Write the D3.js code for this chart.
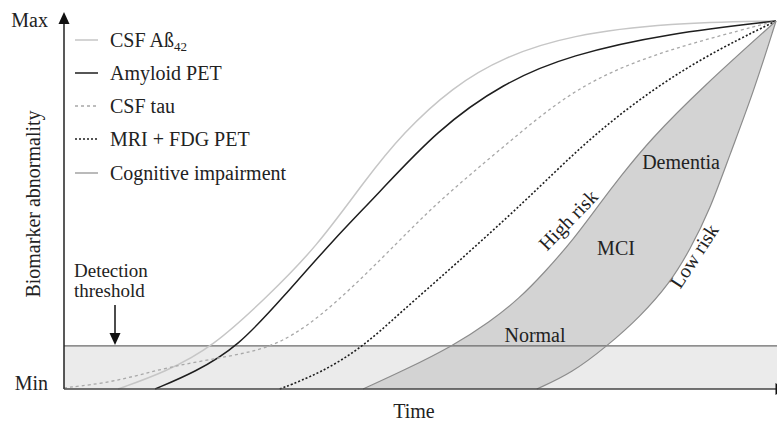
<!DOCTYPE html>
<html>
<head>
<meta charset="utf-8">
<script src="https://cdn.jsdelivr.net/npm/d3@7"></script>
<style>
  html, body { margin: 0; padding: 0; background: #fff; }
  svg { display: block; }
  text { font-family: "Liberation Serif", "DejaVu Serif", serif; }
</style>
</head>
<body>
<svg id="chart" width="777" height="422"></svg>
<script>
// ---- data (time 0..100, abnormality 0..100) ----
const csfAbeta   = [[7.6,0],[14.2,4.6],[20.9,11.4],[28.5,25.0],[35.5,38.6],[42.3,56.8],[47.6,69.6],[54.6,82.1],[61.7,90.2],[71.1,96.2],[85.1,99.5],[100,100]];
const amyloidPet = [[12.8,0],[18.4,4.6],[24.4,11.4],[30.8,25.0],[37.8,40.5],[44.0,52.8],[52.4,70.4],[61.7,83.2],[71.1,90.8],[85.1,96.7],[100,100]];
const csfTau     = [[0,0.3],[7.2,1.9],[14.5,6.0],[23.3,8.9],[30.3,11.7],[37.8,22.3],[47.2,40.5],[52.8,51.4],[61.7,65.8],[71.1,81.0],[80.5,89.4],[89.7,94.8],[100,100]];
const mriFdgPet  = [[30.3,0],[36.0,4.3],[42.0,11.4],[47.2,20.7],[54.6,33.2],[65.0,51.4],[72.5,65.8],[80.5,78.5],[89.7,90.2],[100,100]];
const highRisk   = [[42.0,0],[47.9,5.2],[54.6,11.7],[59.8,18.2],[64.0,24.7],[67.4,31.5],[71.5,40.5],[75.3,50.5],[78.1,57.6],[82.3,67.7],[89.7,82.1],[100,100]];
const lowRisk    = [[66.4,0],[71.3,4.3],[76.3,11.7],[80.9,19.6],[85.1,28.8],[87.9,37.8],[90.7,48.6],[93.5,63.6],[96.8,80.4],[100,100]];
const threshold  = 11.7;
const yTickValues = [0, 100];
const yTickLabels = ["Min", "Max"];
const legendLabels = ["CSF Aß", "Amyloid PET", "CSF tau", "MRI + FDG PET", "Cognitive impairment"];
const regionLabels = ["Normal", "MCI", "Dementia"];
const riskLabels = ["High risk", "Low risk"];

// ---- drawing ----
const FONT = "Liberation Serif, DejaVu Serif, serif";
const svg = d3.select("#chart");
const x = d3.scaleLinear().domain([0, 100]).range([64, 776]);
const y = d3.scaleLinear().domain([0, 100]).range([389, 21]);
const line = d3.line().x(d => x(d[0])).y(d => y(d[1])).curve(d3.curveBasis);

function label(sel) {
  return sel.attr("font-family", FONT).attr("font-size", 20).attr("fill", "#222");
}

// threshold band
svg.append("rect")
  .attr("x", x(0)).attr("y", y(threshold))
  .attr("width", 777 - x(0)).attr("height", y(0) - y(threshold))
  .attr("fill", "#ebebeb");

// cognitive impairment region
const hiPath = line(highRisk);
const loPath = line(lowRisk.slice().reverse());
svg.append("path")
  .attr("d", hiPath + "L" + loPath.slice(1) + "Z")
  .attr("fill", "#d3d3d3").attr("stroke", "none");

// threshold line
svg.append("line")
  .attr("x1", x(0)).attr("x2", 777)
  .attr("y1", y(threshold)).attr("y2", y(threshold))
  .attr("stroke", "#6a6a6a").attr("stroke-width", 1.2);

// curves
const series = [
  {data: csfAbeta,   color: "#c6c6c6", dash: null,  w: 1.5},
  {data: amyloidPet, color: "#1e1e1e", dash: null,  w: 1.5},
  {data: csfTau,     color: "#a8a8a8", dash: "3,3", w: 1.3},
  {data: mriFdgPet,  color: "#1e1e1e", dash: "2,2", w: 1.6},
  {data: highRisk,   color: "#8c8c8c", dash: null,  w: 1.2},
  {data: lowRisk,    color: "#8c8c8c", dash: null,  w: 1.2}
];
series.forEach(s => {
  svg.append("path").attr("d", line(s.data))
    .attr("fill", "none").attr("stroke", s.color)
    .attr("stroke-width", s.w)
    .attr("stroke-dasharray", s.dash);
});

// axes
svg.append("line").attr("x1", x(0)).attr("x2", x(0)).attr("y1", y(0)).attr("y2", 22)
  .attr("stroke", "#222").attr("stroke-width", 1.5);
svg.append("path").attr("d", `M${x(0)},12 L${x(0)-5.5},24 L${x(0)+5.5},24 Z`).attr("fill", "#111");
svg.append("line").attr("x1", x(0)).attr("x2", 777).attr("y1", y(0)).attr("y2", y(0))
  .attr("stroke", "#444").attr("stroke-width", 1.5);
svg.append("path").attr("d", `M775.5,${y(0)-6} L785,${y(0)} L775.5,${y(0)+6} Z`).attr("fill", "#111");

const yAxis = d3.axisLeft(y).tickValues(yTickValues)
  .tickFormat((d, i) => yTickLabels[i]).tickSize(0).tickPadding(16);
const gy = svg.append("g").attr("transform", `translate(${x(0)},0)`).call(yAxis)
  .attr("font-family", FONT).attr("font-size", 20);
gy.select(".domain").remove();
gy.selectAll("text").call(label)
  .attr("dy", (d) => d === 0 ? "0" : "0.25em");

// axis titles
svg.append("text").attr("x", 414).attr("y", 418).attr("text-anchor", "middle")
  .call(label).text("Time");
svg.append("text").attr("transform", "translate(40,204) rotate(-90)")
  .attr("text-anchor", "middle").call(label)
  .text("Biomarker abnormality");

// legend
const legendY = [40, 73, 106, 139, 173];
legendLabels.forEach((lab, i) => {
  const s = series[i];
  svg.append("line").attr("x1", 75).attr("x2", 98).attr("y1", legendY[i]).attr("y2", legendY[i])
    .attr("stroke", s.color).attr("stroke-width", s.w).attr("stroke-dasharray", s.dash);
  const t = svg.append("text").attr("x", 110).attr("y", legendY[i] + 7)
    .call(label).text(lab);
  if (i === 0) {
    t.append("tspan").attr("font-size", 13).attr("dy", 4).text("42");
  }
});

// detection threshold annotation
svg.append("text").attr("x", 74).attr("y", 277).call(label).attr("font-size", 19).text("Detection");
svg.append("text").attr("x", 74).attr("y", 297).call(label).attr("font-size", 19).text("threshold");
svg.append("line").attr("x1", 115).attr("x2", 115).attr("y1", 305).attr("y2", 335)
  .attr("stroke", "#111").attr("stroke-width", 1.5);
svg.append("path").attr("d", `M109.5,333 L120.5,333 L115,345 Z`).attr("fill", "#111");

// region labels
const regionPos = [[535, 342], [616, 255], [681, 169]];
regionLabels.forEach((lab, i) => {
  svg.append("text").attr("x", regionPos[i][0]).attr("y", regionPos[i][1])
    .attr("text-anchor", "middle").call(label).text(lab);
});
const riskPos = [[568, 220, -46], [694, 256, -57]];
riskLabels.forEach((lab, i) => {
  svg.append("text")
    .attr("transform", `translate(${riskPos[i][0]},${riskPos[i][1]}) rotate(${riskPos[i][2]})`)
    .attr("text-anchor", "middle").attr("dy", "0.35em")
    .call(label).text(lab);
});
</script>
</body>
</html>
